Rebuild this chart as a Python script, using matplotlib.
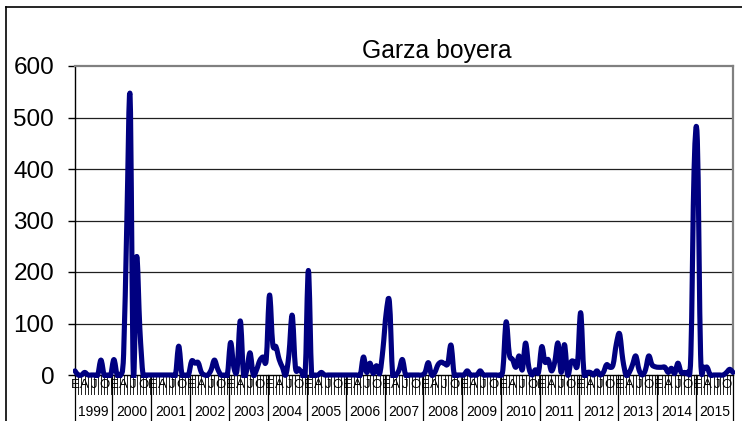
import numpy as np
import matplotlib
matplotlib.use("Agg")
import matplotlib.pyplot as plt
from matplotlib.path import Path
from matplotlib.patches import PathPatch, Rectangle
from matplotlib.lines import Line2D
import matplotlib.transforms as mtransforms

plt.rcParams['font.family'] = ['Liberation Sans', 'DejaVu Sans']

title = "Garza boyera"
years = [str(y) for y in range(1999, 2016)]
month_letters = ['E', 'F', 'M', 'A', 'M', 'J', 'J', 'A', 'S', 'O', 'N', 'D']
shown_months = [0, 3, 6, 9]
y_ticks = [0, 100, 200, 300, 400, 500, 600]

# monthly counts, Jan 1999 .. Dec 2015
counts = [
    8, 0, 0, 5, 0, 0, 0, 0, 29, 0, 0, 0,            # 1999
    30, 0, 0, 40, 300, 540, 0, 229, 90, 0, 0, 0,    # 2000
    0, 0, 0, 0, 0, 0, 0, 0, 56, 0, 0, 0,            # 2001
    27, 23, 24, 5, 0, 0, 10, 29, 12, 0, 0, 0,       # 2002
    63, 15, 10, 105, 0, 10, 43, 0, 10, 28, 35, 30,  # 2003
    155, 60, 55, 30, 15, 0, 40, 116, 15, 12, 5, 0,  # 2004
    203, 0, 0, 0, 5, 0, 0, 0, 0, 0, 0, 0,           # 2005
    0, 0, 0, 0, 0, 35, 5, 23, 3, 18, 3, 50,         # 2006
    120, 142, 0, 0, 10, 30, 0, 0, 0, 0, 0, 0,       # 2007
    5, 24, 0, 5, 20, 25, 22, 22, 58, 0, 0, 0,       # 2008
    0, 8, 0, 0, 0, 8, 0, 0, 0, 0, 0, 0,             # 2009
    10, 103, 40, 30, 15, 37, 10, 62, 15, 0, 10, 5,  # 2010
    55, 25, 30, 8, 25, 62, 5, 59, 0, 25, 26, 20,    # 2011
    121, 5, 5, 5, 0, 8, 0, 5, 20, 15, 20, 60,       # 2012
    80, 30, 0, 5, 20, 37, 10, 0, 10, 37, 20, 16,    # 2013
    15, 15, 15, 5, 13, 3, 23, 5, 5, 5, 40, 400,     # 2014
    455, 40, 15, 15, 0, 0, 0, 0, 0, 5, 11, 5,       # 2015
]

W, H = 742, 421
fig = plt.figure(figsize=(W / 100, H / 100), dpi=100)
L, R, B, T = 75, 733, 375, 66
ax = fig.add_axes([L / W, 1 - B / H, (R - L) / W, (B - T) / H])

n = len(counts)
x = np.arange(n, dtype=float)
y = np.array(counts, dtype=float)
ax.set_xlim(0, n - 1)
ax.set_ylim(0, 600)

# smoothed line (Bezier through the data points, like a spreadsheet smoothed line)
pts = np.column_stack([x, y])
verts = [tuple(pts[0])]
codes = [Path.MOVETO]
for i in range(n - 1):
    p0 = pts[max(i - 1, 0)]
    p1 = pts[i]
    p2 = pts[i + 1]
    p3 = pts[min(i + 2, n - 1)]
    c1 = p1 + (p2 - p0) / 6.0
    c2 = p2 - (p3 - p1) / 6.0
    verts += [tuple(c1), tuple(c2), tuple(p2)]
    codes += [Path.CURVE4] * 3
patch = PathPatch(Path(verts, codes), fill=False, edgecolor='#000080',
                  lw=3.7, joinstyle='round', capstyle='round', zorder=5,
                  clip_on=True)
ax.add_patch(patch)
clip = Rectangle((-0.6, -6), n - 1 + 1.2, 700, transform=ax.transData,
                 facecolor='none', edgecolor='none')
ax.add_patch(clip)
patch.set_clip_path(clip)

# grid
for v in y_ticks[1:-1]:
    ax.axhline(v, color='#202020', lw=0.9, zorder=1)

for s in ['top', 'right']:
    ax.spines[s].set_color('#808080')
    ax.spines[s].set_linewidth(1.6)
ax.spines['left'].set_color('black')
ax.spines['left'].set_linewidth(1.0)
ax.spines['bottom'].set_color('black')
ax.spines['bottom'].set_linewidth(1.0)

ax.set_yticks(y_ticks)
ax.set_yticklabels([str(v) for v in y_ticks])
ax.tick_params(axis='y', direction='out', length=5, width=1.0,
               labelsize=17.5, pad=10, colors='black')
ax.set_xticks([])

trans = mtransforms.blended_transform_factory(ax.transData, ax.transAxes)
tick_h = 19 / (B - T)
for i in range(n):
    ax.add_line(Line2D([i, i], [0, -tick_h], transform=trans, color='#202020',
                       lw=0.7, clip_on=False))
    if i % 12 in shown_months:
        ax.text(i, -9.5 / (B - T), month_letters[i % 12], transform=trans,
                ha='center', va='center', fontsize=9.5, color='black',
                clip_on=False)

divs = [0] + [12 * k - 0.5 for k in range(1, len(years))] + [n - 1]
for d in divs:
    ax.add_line(Line2D([d, d], [0, -0.2], transform=trans, color='black',
                       lw=0.9, clip_on=False))
for k, yr in enumerate(years):
    cx = (divs[k] + divs[k + 1]) / 2
    ax.text(cx, -37.5 / (B - T), yr, transform=trans, ha='center', va='center',
            fontsize=10, color='black', clip_on=False)

fig.text(437 / W, 1 - 58 / H, title, ha='center', va='baseline', fontsize=17.8)

# chart-area border (left and top edges visible)
fig.add_artist(Line2D([6 / W, 6 / W], [0, 1 - 7 / H], transform=fig.transFigure,
                      color='black', lw=1.2))
fig.add_artist(Line2D([6 / W, 1], [1 - 7 / H, 1 - 7 / H], transform=fig.transFigure,
                      color='black', lw=1.2))

fig.savefig('out.png', dpi=100)
